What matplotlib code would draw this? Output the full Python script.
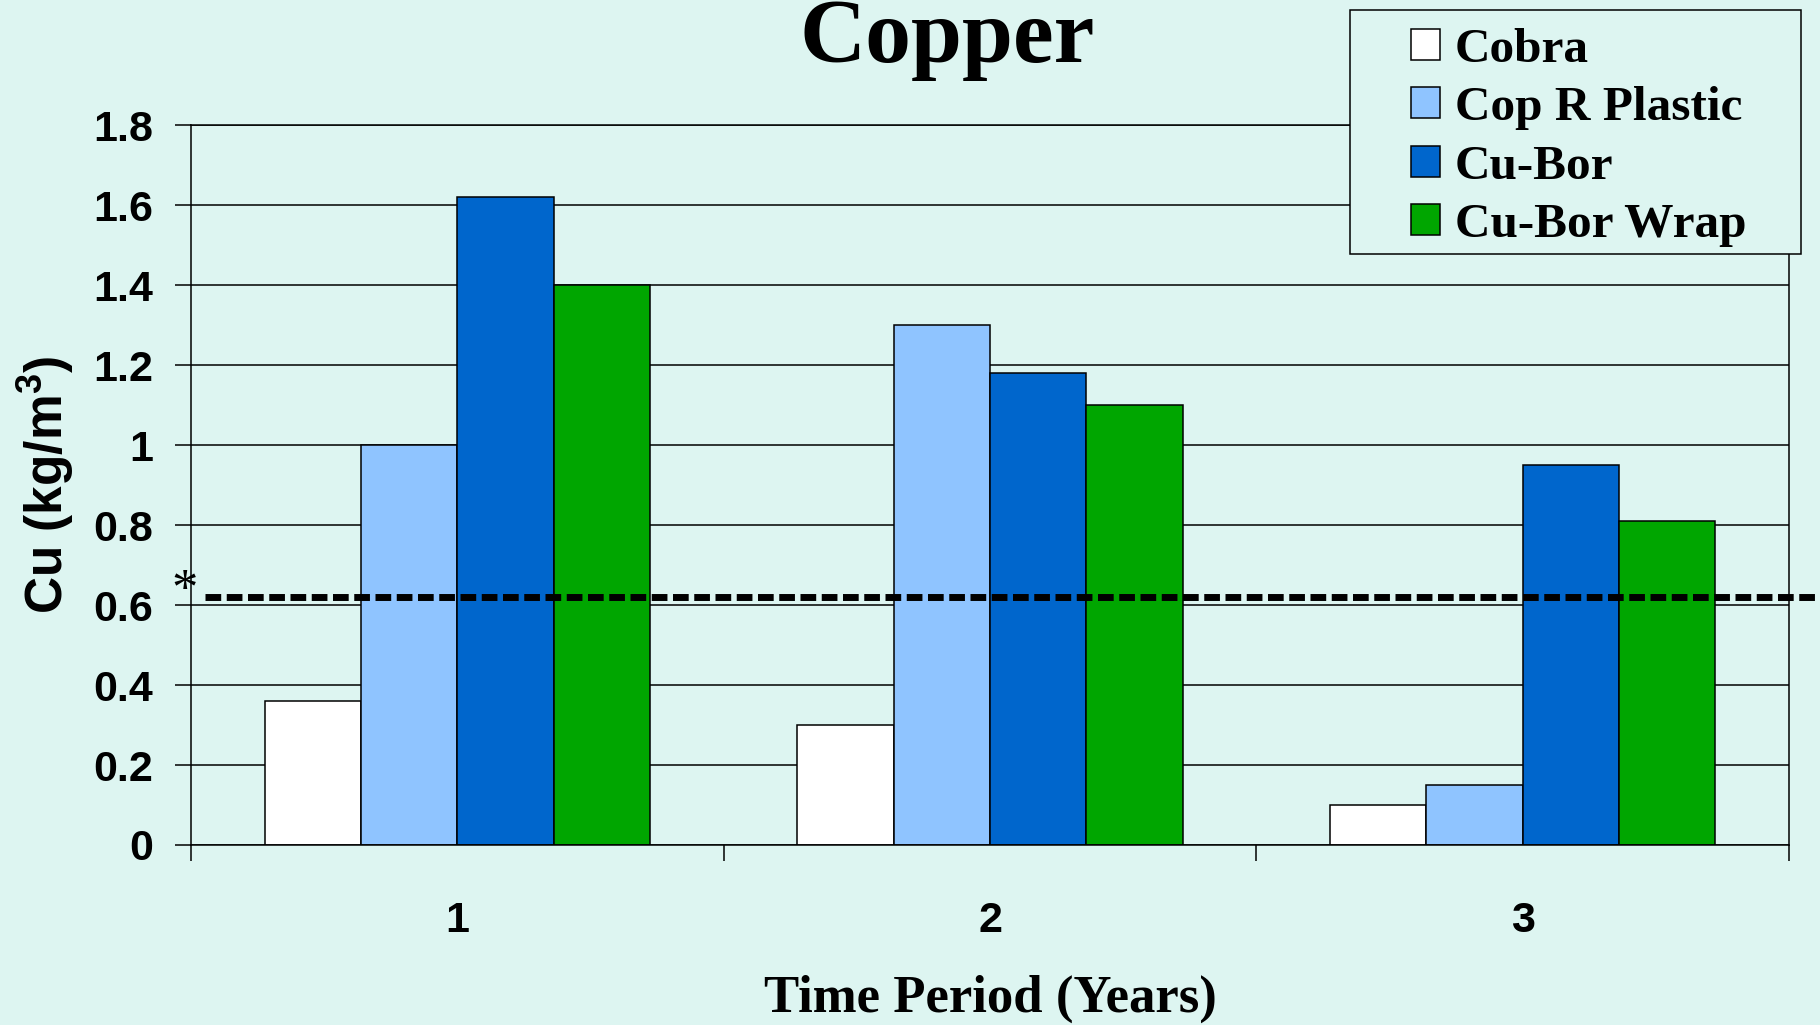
import numpy as np
import matplotlib
matplotlib.use("Agg")
import matplotlib.pyplot as plt
from matplotlib.patches import Rectangle

# data
periods = ["1", "2", "3"]
series_names = ["Cobra", "Cop R Plastic", "Cu-Bor", "Cu-Bor Wrap"]
cobra = [0.36, 0.30, 0.10]
cop_r_plastic = [1.00, 1.30, 0.15]
cu_bor = [1.62, 1.18, 0.95]
cu_bor_wrap = [1.40, 1.10, 0.81]
limit_value = 0.62

colors = ["#FFFFFF", "#8FC4FF", "#0066CC", "#00A600"]
bg = "#DDF5F1"

W, H = 1820, 1025
plt.rcParams["mathtext.fontset"] = "custom"
plt.rcParams["mathtext.rm"] = "Liberation Sans:bold"
plt.rcParams["mathtext.bf"] = "Liberation Sans:bold"

fig = plt.figure(figsize=(W / 100, H / 100), dpi=100, facecolor=bg)
# axes box in pixels: left 191, right 1789, top 125, bottom 845
ax = fig.add_axes([191 / W, 1 - 845 / H, (1789 - 191) / W, (845 - 125.4) / H])
ax.set_facecolor(bg)

x = np.arange(len(periods))
width = 0.181
all_series = [cobra, cop_r_plastic, cu_bor, cu_bor_wrap]
bars = []
for i, vals in enumerate(all_series):
    b = ax.bar(x + (i - 1.5) * width, vals, width, color=colors[i],
               edgecolor="black", linewidth=1.1, label=series_names[i], zorder=2)
    bars.append(b)

ax.set_xlim(-0.5, len(periods) - 0.5)
ax.set_ylim(0, 1.8)
yt = np.arange(0, 1.81, 0.2)
ax.set_yticks(yt)
ax.set_yticklabels(["%g" % round(v, 1) for v in yt])
ax.yaxis.grid(True, color="black", linewidth=1.1)
ax.set_axisbelow(True)

# labels at the group centres, tick marks between groups
ax.set_xticks(x)
ax.set_xticklabels(periods)
ax.set_xticks(np.arange(-0.5, len(periods), 1.0), minor=True)
ax.tick_params(axis="x", which="major", length=0, pad=40)
ax.tick_params(axis="x", which="minor", length=11.5, width=1.1, direction="out")
ax.tick_params(axis="y", length=11.5, width=1.1, direction="out", pad=16)
for lab in ax.get_xticklabels() + ax.get_yticklabels():
    lab.set_fontfamily("Liberation Sans")
    lab.set_fontweight("bold")
    lab.set_fontsize(31)

for s in ax.spines.values():
    s.set_linewidth(1.1)
    s.set_color("black")

# threshold line, runs past the right edge of the plot
lw = 5
ax.plot([0.0088, 1.02], [limit_value, limit_value], color="black", lw=lw,
        linestyle=(0, (11.3 / lw, 4.0 / lw)), transform=ax.get_yaxis_transform(),
        clip_on=False, zorder=5)
ax.text(-0.004, 0.60, "*", transform=ax.get_yaxis_transform(), ha="center",
        va="baseline", fontsize=38, fontfamily="Liberation Serif", clip_on=False)

ax.set_xlabel("Time Period (Years)", fontsize=38, fontfamily="Liberation Serif",
              fontweight="bold")
ax.xaxis.set_label_coords(0.5, -(1012 - 845) / (845 - 125.4))
ax.xaxis.label.set_va("baseline")
ax.set_ylabel(r"Cu (kg/m$^3$)", fontsize=37, fontfamily="Liberation Sans",
              fontweight="bold")
ax.yaxis.set_label_coords((46 - 191) / (1789 - 191), 0.5)
ax.yaxis.label.set_va("center")

fig.text(947 / W, 1 - 62 / H, "Copper", ha="center", va="baseline", fontsize=66,
         fontfamily="Liberation Serif", fontweight="bold")

# legend box
frame = Rectangle((1350 / W, 1 - 254 / H), (1801 - 1350) / W, (254 - 10) / H,
                  transform=fig.transFigure, facecolor=bg, edgecolor="black",
                  linewidth=1.1, zorder=5)
fig.patches.append(frame)
leg = fig.legend(handles=bars, labels=series_names, loc="upper left",
                 bbox_to_anchor=(1411 / W, 1 - 28 / H), bbox_transform=fig.transFigure,
                 frameon=False, borderpad=0, borderaxespad=0, handlelength=0.59,
                 handleheight=0.59, handletextpad=0.3, labelspacing=0.29,
                 prop={"family": "Liberation Serif", "weight": "bold", "size": 35.5})
leg.set_zorder(6)

fig.savefig("out.png", dpi=100, facecolor=bg)
